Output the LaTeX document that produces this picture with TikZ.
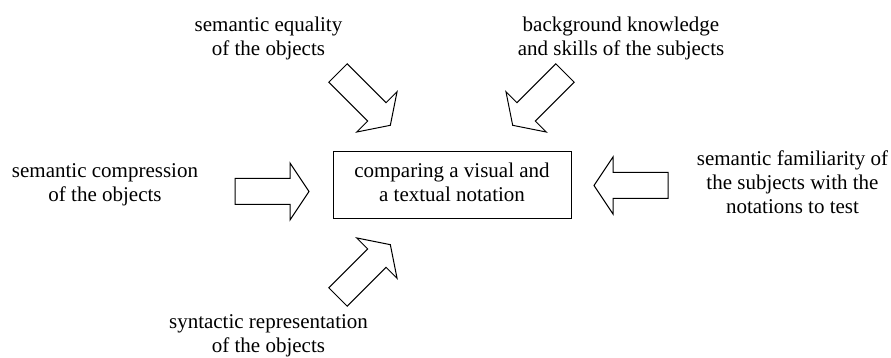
\documentclass[tikz,border=0pt]{standalone}
\usepackage{fontspec}
\setmainfont{Liberation Serif}
\tikzset{
  lbl/.style={align=center, inner sep=0pt, font=\fontsize{21}{24}\selectfont},
  centrebox/.style={draw, line width=1pt, minimum width=238pt, minimum height=67pt, inner sep=0pt},
  arrowline/.style={draw, line width=1pt, line join=miter, fill=white},
  blockarrow/.pic={\path[arrowline] (0,13)--(55,13)--(55,28.5)--(74,0)--(55,-28.5)--(55,-13)--(0,-13)--cycle;}
}
\begin{document}
\begin{tikzpicture}[x=1pt,y=1pt]
\useasboundingbox (0,0) rectangle (891,358);
\node[centrebox] (box) at (452,172.5) {};
\node[lbl] (boxtext) at ([yshift=3pt]box.center) {comparing a visual and\\a textual notation};
\node[lbl] (eq) at (268.5,320) {semantic equality\\of the objects};
\node[lbl] (bg) at (621,320) {background knowledge\\and skills of the subjects};
\node[lbl] (comp) at (105,173) {semantic compression\\of the objects};
\node[lbl] (fam) at (792.5,176) {semantic familiarity of\\the subjects with the\\notations to test};
\node[lbl] (syn) at (268.5,22) {syntactic representation\\of the objects};
\pic at (235,166.5) {blockarrow};
\pic[rotate=180] at (668,172.5) {blockarrow};
\pic[rotate=-45] at (338,285) {blockarrow};
\pic[rotate=-135] at (565,285) {blockarrow};
\pic[rotate=45] at (338,61) {blockarrow};
\end{tikzpicture}
\end{document}
